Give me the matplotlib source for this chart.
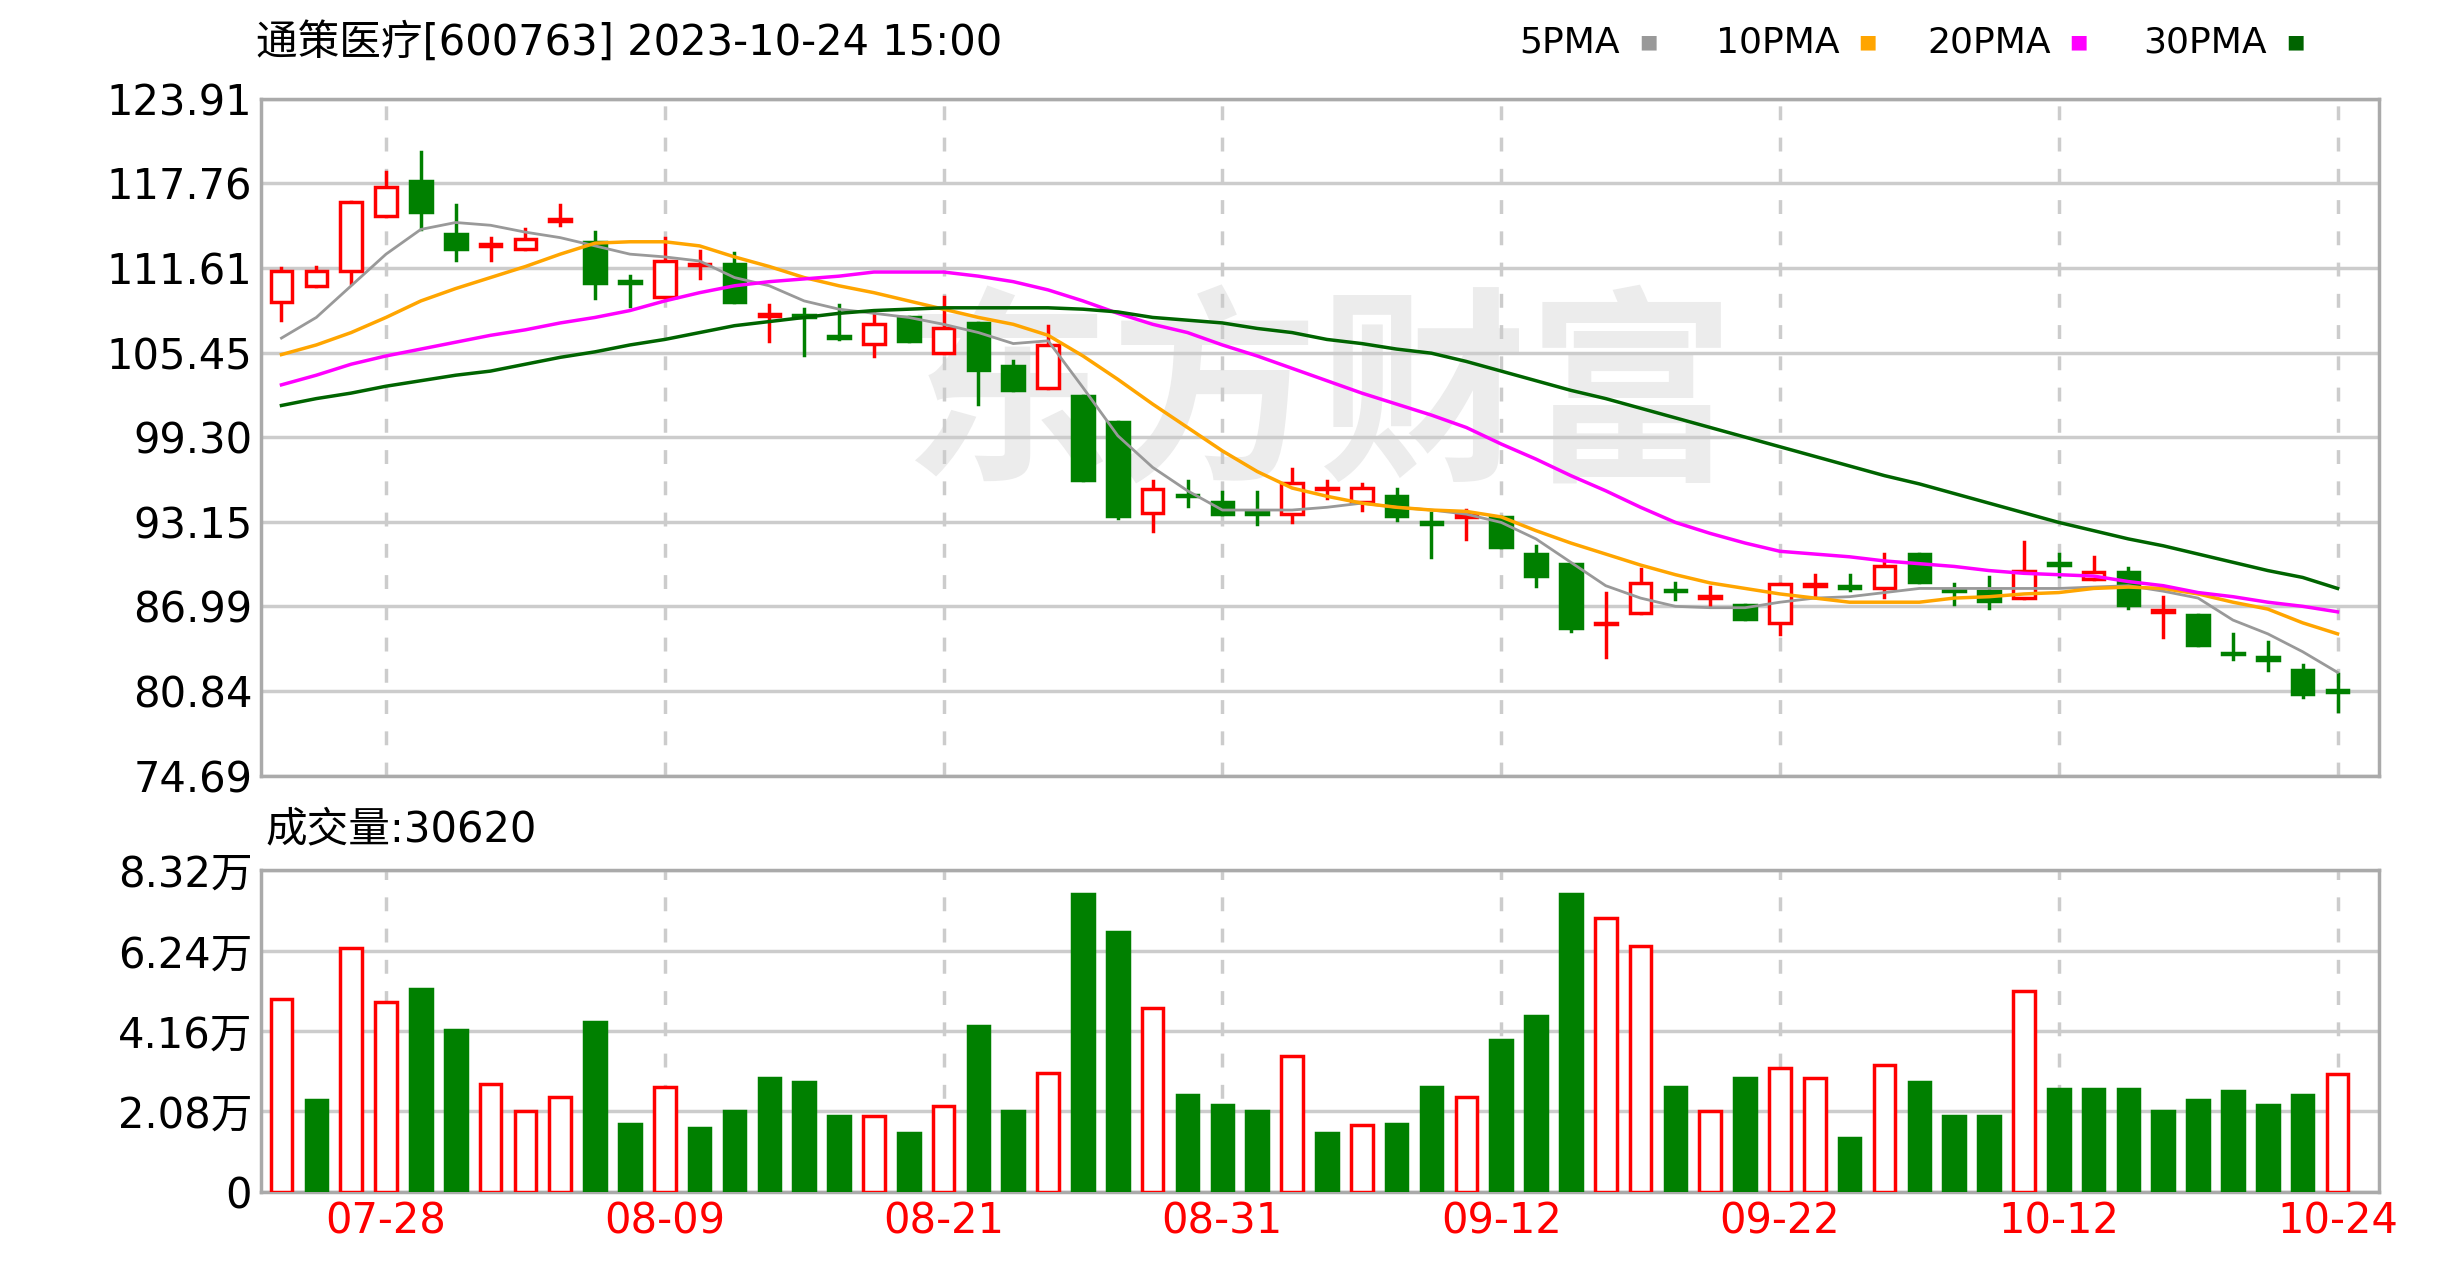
import matplotlib.pyplot as plt
from matplotlib.patches import Rectangle

plt.rcParams['font.family'] = ['DejaVu Sans', 'Noto Sans CJK SC']

# ---------------- données ----------------
dates = ['07-25', '07-26', '07-27', '07-28', '07-31',
         '08-01', '08-02', '08-03', '08-04', '08-07', '08-08', '08-09', '08-10', '08-11',
         '08-14', '08-15', '08-16', '08-17', '08-18', '08-21', '08-22', '08-23', '08-24', '08-25',
         '08-28', '08-29', '08-30', '08-31', '09-01', '09-04', '09-05', '09-06', '09-07', '09-08',
         '09-11', '09-12', '09-13', '09-14', '09-15', '09-18', '09-19', '09-20', '09-21', '09-22',
         '09-25', '09-26', '09-27', '09-28', '10-09', '10-10', '10-11', '10-12', '10-13',
         '10-16', '10-17', '10-18', '10-19', '10-20', '10-23', '10-24']

opens = [109.15, 110.3, 111.4, 115.4, 117.9, 114.1, 113.2, 113.0, 115.0, 113.5,
         110.6, 109.5, 111.8, 111.9, 108.1, 108.2, 106.6, 106.1, 108.0, 105.4,
         107.6, 104.5, 102.9, 102.3, 100.4, 93.8, 95.1, 94.6, 93.9, 93.7,
         95.5, 94.6, 95.0, 93.1, 93.5, 93.5, 90.8, 90.1, 85.7, 86.5,
         88.2, 87.6, 87.1, 85.8, 88.5, 88.5, 88.3, 90.8, 88.2, 88.1,
         87.6, 90.1, 89.0, 89.5, 86.6, 86.4, 83.6, 83.3, 82.4, 80.9]
closes = [111.4, 111.4, 116.4, 117.5, 115.7, 113.0, 113.3, 113.7, 115.1, 110.5,
          110.5, 112.1, 111.9, 109.15, 108.2, 108.0, 106.5, 107.55, 106.3, 107.2,
          104.2, 102.7, 106.0, 96.2, 93.6, 95.5, 95.0, 93.7, 93.7, 96.0,
          95.6, 95.6, 93.6, 93.0, 93.7, 91.3, 89.2, 85.4, 85.8, 88.7,
          88.1, 87.7, 86.1, 88.6, 88.6, 88.3, 89.9, 88.8, 88.1, 87.4,
          89.6, 90.0, 89.5, 87.1, 86.7, 84.2, 83.5, 83.1, 80.6, 80.8]
highs = [111.6, 111.7, 116.4, 118.6, 120.0, 116.2, 113.8, 114.4, 116.2, 114.2,
         111.0, 113.8, 112.8, 112.7, 108.9, 108.6, 108.9, 108.3, 108.0, 109.5,
         107.6, 104.8, 107.4, 102.3, 100.4, 96.1, 96.1, 95.3, 95.3, 97.0,
         96.1, 95.9, 95.5, 93.8, 94.0, 93.5, 91.4, 90.1, 88.0, 89.7,
         88.7, 88.4, 87.1, 88.6, 89.3, 89.3, 90.8, 90.8, 88.6, 89.1,
         91.7, 90.8, 90.6, 89.8, 87.7, 86.4, 85.0, 84.4, 82.7, 82.1]
lows = [107.8, 110.3, 110.5, 115.4, 114.4, 112.2, 112.2, 113.0, 114.7, 109.4,
        108.8, 109.5, 110.9, 109.15, 106.3, 105.3, 106.4, 105.2, 106.3, 105.4,
        101.7, 102.7, 102.9, 96.2, 93.4, 92.5, 94.3, 93.7, 93.0, 93.15,
        94.9, 94.0, 93.3, 90.6, 91.9, 91.3, 88.5, 85.2, 83.3, 86.5,
        87.5, 87.0, 86.1, 85.0, 87.7, 88.2, 87.7, 88.8, 87.2, 86.9,
        87.6, 89.2, 89.0, 86.9, 84.8, 84.2, 83.2, 82.4, 80.4, 79.4]

ma5 = [106.5, 108.0, 110.3, 112.6, 114.4, 114.9, 114.7, 114.2, 113.8, 113.2,
       112.6, 112.4, 112.1, 110.9, 110.3, 109.2, 108.6, 108.3, 108.0, 107.5,
       106.9, 106.1, 106.3, 102.9, 99.4, 97.1, 95.4, 94.0, 94.0, 94.0,
       94.2, 94.5, 94.2, 94.0, 93.7, 93.1, 91.9, 90.2, 88.5, 87.6,
       87.0, 86.9, 86.9, 87.3, 87.6, 87.7, 88.0, 88.3, 88.3, 88.3,
       88.3, 88.3, 88.4, 88.5, 88.1, 87.6, 86.0, 85.0, 83.7, 82.2]
ma10 = [105.3, 106.0, 106.9, 108.0, 109.2, 110.1, 110.9, 111.7, 112.6, 113.4,
        113.5, 113.5, 113.2, 112.4, 111.7, 110.9, 110.3, 109.8, 109.2, 108.6,
        108.0, 107.5, 106.7, 105.2, 103.5, 101.7, 100.0, 98.3, 96.8, 95.6,
        95.0, 94.5, 94.2, 94.0, 93.9, 93.5, 92.5, 91.6, 90.8, 90.0,
        89.3, 88.7, 88.3, 87.9, 87.6, 87.3, 87.3, 87.3, 87.6, 87.7,
        87.9, 88.0, 88.3, 88.4, 88.3, 87.9, 87.3, 86.8, 85.8, 85.0]
ma20 = [103.1, 103.8, 104.6, 105.2, 105.7, 106.2, 106.7, 107.1, 107.6, 108.0,
        108.5, 109.2, 109.8, 110.3, 110.6, 110.8, 111.0, 111.3, 111.3, 111.3,
        111.0, 110.6, 110.0, 109.2, 108.3, 107.5, 106.9, 106.0, 105.2, 104.3,
        103.4, 102.5, 101.7, 100.9, 100.0, 98.8, 97.7, 96.5, 95.4, 94.2,
        93.1, 92.3, 91.6, 91.0, 90.8, 90.6, 90.3, 90.1, 89.9, 89.6,
        89.4, 89.3, 89.2, 88.8, 88.5, 88.0, 87.7, 87.3, 87.0, 86.6]
ma30 = [101.6, 102.1, 102.5, 103.0, 103.4, 103.8, 104.1, 104.6, 105.1, 105.5,
        106.0, 106.4, 106.9, 107.4, 107.7, 108.0, 108.3, 108.5, 108.6, 108.7,
        108.7, 108.7, 108.7, 108.6, 108.4, 108.0, 107.8, 107.6, 107.2, 106.9,
        106.4, 106.1, 105.7, 105.4, 104.8, 104.1, 103.4, 102.7, 102.1, 101.4,
        100.7, 100.0, 99.3, 98.6, 97.9, 97.2, 96.5, 95.9, 95.2, 94.5,
        93.8, 93.1, 92.5, 91.9, 91.4, 90.8, 90.2, 89.6, 89.1, 88.3]

# volume en 万
volumes = [5.00, 2.38, 6.31, 4.92, 5.25, 4.18, 2.79, 2.09, 2.46, 4.39,
           1.76, 2.70, 1.64, 2.09, 2.95, 2.83, 1.97, 1.97, 1.52, 2.21,
           4.30, 2.09, 3.07, 7.70, 6.72, 4.75, 2.50, 2.25, 2.09, 3.52,
           1.52, 1.72, 1.76, 2.70, 2.46, 3.93, 4.55, 7.70, 7.09, 6.35,
           2.70, 2.09, 2.95, 3.20, 2.95, 1.39, 3.28, 2.83, 1.97, 1.97,
           5.20, 2.66, 2.66, 2.66, 2.09, 2.38, 2.62, 2.25, 2.50, 3.06]
vol_red = [0, 2, 3, 6, 7, 8, 11, 17, 19, 22, 25, 29, 31, 34, 38, 39, 41, 43, 44, 46, 50, 59]

price_ticks = [74.69, 80.84, 86.99, 93.15, 99.30, 105.45, 111.61, 117.76, 123.91]
vol_ticks = [0, 2.08, 4.16, 6.24, 8.32]
vol_labels = ['0', '2.08万', '4.16万', '6.24万', '8.32万']
label_idx = [3, 11, 19, 27, 35, 43, 51, 59]

RED = '#ff0000'
GREEN = '#008000'
FS = 30

fig = plt.figure(figsize=(24.58, 12.8), dpi=100, facecolor='white')
ax = fig.add_axes([0.106, 0.394, 0.862, 0.529])
axv = fig.add_axes([0.106, 0.069, 0.862, 0.251])

n = len(dates)
w = 0.62
for i in range(n):
    o, c, h, l = opens[i], closes[i], highs[i], lows[i]
    up = c >= o
    col = RED if up else GREEN
    ax.plot([i, i], [l, h], color=col, lw=2.5, zorder=3)
    bot, top = min(o, c), max(o, c)
    hgt = max(top - bot, 0.12)
    ax.add_patch(Rectangle((i - w / 2, bot), w, hgt, facecolor='white' if up else col,
                           edgecolor=col, lw=2.5, zorder=4))

x = list(range(n))
ax.plot(x, ma5, color='#999999', lw=2, zorder=5)
ax.plot(x, ma10, color='#ffa500', lw=2.5, zorder=5)
ax.plot(x, ma20, color='#ff00ff', lw=2.5, zorder=5)
ax.plot(x, ma30, color='#006400', lw=2.5, zorder=5)

for i in range(n):
    red = i in vol_red
    col = RED if red else GREEN
    axv.add_patch(Rectangle((i - w / 2, 0), w, volumes[i], facecolor='white' if red else col,
                            edgecolor=col, lw=2.5, zorder=3))

for a in (ax, axv):
    a.set_xlim(-0.6, 60.2)
    a.set_xticks(label_idx)
    a.grid(axis='y', color='#cccccc', lw=2.5)
    for xi in label_idx:
        a.axvline(xi, color='#cccccc', lw=2.5, ls=(0, (4, 5)), zorder=1)
    a.set_axisbelow(True)
    for sp in a.spines.values():
        sp.set_color('#aaaaaa')
        sp.set_linewidth(2.5)
    a.tick_params(length=0, labelsize=FS, pad=6)

ax.set_ylim(74.69, 123.91)
ax.set_yticks(price_ticks)
ax.set_yticklabels([f'{v:.2f}' for v in price_ticks])
ax.set_xticklabels([])
ax.text(0.5, 0.55, '东方财富', transform=ax.transAxes, fontsize=150, color='#ececec',
        ha='center', va='center', fontweight='bold', zorder=0, family='Noto Sans CJK SC')

axv.set_ylim(0, 8.32)
axv.set_yticks(vol_ticks)
axv.set_yticklabels(vol_labels)
axv.set_xticklabels([dates[i] for i in label_idx], color=RED)

fig.text(0.104, 0.967, '通策医疗[600763] 2023-10-24 15:00', fontsize=FS, va='center')
leg = [('5PMA', '#999999', 0.618), ('10PMA', '#ffa500', 0.698),
       ('20PMA', '#ff00ff', 0.784), ('30PMA', '#006400', 0.872)]
for name, col, xp in leg:
    fig.text(xp, 0.967, name, fontsize=FS - 4, va='center')
    fig.text(xp + 0.049 + (0.009 if len(name) > 4 else 0), 0.967, '■', fontsize=14,
             va='center', color=col)
fig.text(0.108, 0.352, '成交量:30620', fontsize=FS, va='center')

fig.savefig('out.png', dpi=100, facecolor='white')
